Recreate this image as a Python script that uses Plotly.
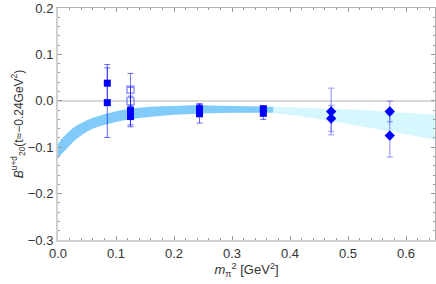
import plotly.graph_objects as go

# ---- data ----
band_dark_x = [0.0, 0.005, 0.01, 0.02, 0.03, 0.043, 0.057, 0.072, 0.09, 0.11, 0.14, 0.18, 0.22, 0.26, 0.30, 0.34, 0.371]
band_dark_hi = [-0.093, -0.084, -0.077, -0.065, -0.055, -0.046, -0.038, -0.032, -0.026, -0.020, -0.015, -0.012, -0.010, -0.010, -0.011, -0.012, -0.013]
band_dark_lo = [-0.125, -0.117, -0.110, -0.097, -0.084, -0.072, -0.062, -0.055, -0.049, -0.043, -0.037, -0.032, -0.029, -0.027, -0.026, -0.026, -0.026]

band_light_x = [0.371, 0.42, 0.467, 0.51, 0.55, 0.60, 0.65]
band_light_hi = [-0.013, -0.015, -0.017, -0.019, -0.022, -0.026, -0.030]
band_light_lo = [-0.026, -0.034, -0.043, -0.052, -0.061, -0.072, -0.084]

sq_x = [0.085, 0.085, 0.125, 0.125, 0.244, 0.244, 0.354, 0.354]
sq_y = [0.038, -0.004, -0.021, -0.034, -0.017, -0.028, -0.017, -0.027]
sq_err = [0.040, 0.075, 0.031, 0.022, 0.011, 0.020, 0.005, 0.013]

open_x = [0.125, 0.125]
open_y = [0.024, -0.001]
open_err = [0.035, 0.030]

dia_x = [0.471, 0.471, 0.572, 0.572]
dia_y = [-0.023, -0.038, -0.023, -0.075]
dia_err = [0.050, 0.028, 0.022, 0.046]

x_ticks = [0.0, 0.1, 0.2, 0.3, 0.4, 0.5, 0.6]
x_labels = ["0.0", "0.1", "0.2", "0.3", "0.4", "0.5", "0.6"]
y_ticks = [-0.3, -0.2, -0.1, 0.0, 0.1, 0.2]
y_labels = ["\u22120.3", "\u22120.2", "\u22120.1", "0.0", "0.1", "0.2"]

DARK = "#80CBFA"
LIGHT = "#D6F7FD"
BLUE = "#0000FF"
FONT = "Liberation Sans, Arial, sans-serif"

fig = go.Figure()

# bands
fig.add_trace(go.Scatter(x=band_light_x, y=band_light_lo, mode="lines", line=dict(width=0, color=LIGHT, shape="spline"), showlegend=False, hoverinfo="skip"))
fig.add_trace(go.Scatter(x=band_light_x, y=band_light_hi, mode="lines", line=dict(width=0, color=LIGHT, shape="spline"), fill="tonexty", fillcolor=LIGHT, showlegend=False, hoverinfo="skip"))
fig.add_trace(go.Scatter(x=band_dark_x, y=band_dark_lo, mode="lines", line=dict(width=0, color=DARK, shape="spline"), showlegend=False, hoverinfo="skip"))
fig.add_trace(go.Scatter(x=band_dark_x, y=band_dark_hi, mode="lines", line=dict(width=0, color=DARK, shape="spline"), fill="tonexty", fillcolor=DARK, showlegend=False, hoverinfo="skip"))

# open squares
fig.add_trace(go.Scatter(x=open_x, y=open_y, mode="markers",
                         marker=dict(symbol="square-open", size=7, color="rgba(40,40,255,0.6)", line=dict(width=1.2)),
                         error_y=dict(type="data", array=open_err, color="rgba(0,0,255,0.55)", thickness=1, width=3),
                         showlegend=False))
# filled squares
fig.add_trace(go.Scatter(x=sq_x, y=sq_y, mode="markers",
                         marker=dict(symbol="square", size=7, color=BLUE),
                         error_y=dict(type="data", array=sq_err, color="rgba(0,0,255,0.6)", thickness=1, width=3),
                         showlegend=False))
# diamonds
fig.add_trace(go.Scatter(x=dia_x, y=dia_y, mode="markers",
                         marker=dict(symbol="diamond", size=8, color=BLUE),
                         error_y=dict(type="data", array=dia_err, color="rgba(0,0,255,0.3)", thickness=1.5, width=3),
                         showlegend=False))

# invisible trace for mirrored frame axes
fig.add_trace(go.Scatter(x=[0.3], y=[0.0], xaxis="x2", yaxis="y2", mode="markers",
                         marker=dict(opacity=0), showlegend=False, hoverinfo="skip"))

tickfont = dict(family=FONT, size=13, color="#333333")

fig.update_layout(
    width=436, height=284,
    margin=dict(l=58, r=1, t=8, b=44),
    paper_bgcolor="white", plot_bgcolor="white",
    xaxis=dict(range=[0, 0.65], tickvals=x_ticks, ticktext=x_labels, showgrid=False, zeroline=False, automargin=False,
               showline=True, linecolor="#D0D0D0", linewidth=2, ticks="inside", ticklen=4, tickcolor="#999999",
               minor=dict(ticks="inside", dtick=0.02, tick0=0, ticklen=2, tickcolor="#999999"),
               tickfont=tickfont,
               title=dict(text="<i>m</i><sub>π</sub><sup>2</sup> [GeV<sup>2</sup>]",
                          font=dict(family=FONT, size=13, color="#333333"), standoff=0)),
    yaxis=dict(range=[-0.3, 0.2], tickvals=y_ticks, ticktext=y_labels, showgrid=False, zeroline=True, automargin=False,
               zerolinecolor="#D8D8D8", zerolinewidth=2,
               showline=True, linecolor="#D0D0D0", linewidth=2, ticks="inside", ticklen=4, tickcolor="#999999",
               minor=dict(ticks="inside", dtick=0.02, tick0=0, ticklen=2, tickcolor="#999999"),
               tickfont=tickfont,
               title=dict(text="<i>B</i><sup>u+d</sup><sub>20</sub>(t≈−0.24GeV<sup>2</sup>)",
                          font=dict(family=FONT, size=12, color="#333333"), standoff=2)),
    xaxis2=dict(overlaying="x", matches="x", side="top", anchor="y", showticklabels=False, showgrid=False, zeroline=False,
                showline=True, linecolor="#B0B0B0", linewidth=1, ticks="inside", ticklen=4, tickcolor="#999999",
                tickvals=x_ticks, automargin=False,
                minor=dict(ticks="inside", dtick=0.02, tick0=0, ticklen=2, tickcolor="#999999")),
    yaxis2=dict(overlaying="y", matches="y", side="right", anchor="x", showticklabels=False, showgrid=False, zeroline=False,
                showline=True, linecolor="#B0B0B0", linewidth=1, ticks="inside", ticklen=4, tickcolor="#999999",
                tickvals=y_ticks, automargin=False,
                minor=dict(ticks="inside", dtick=0.02, tick0=0, ticklen=2, tickcolor="#999999")),
)

fig.write_html("out.html", config={"displayModeBar": False},
               post_script="document.body.style.margin='0';document.body.style.padding='0';")
